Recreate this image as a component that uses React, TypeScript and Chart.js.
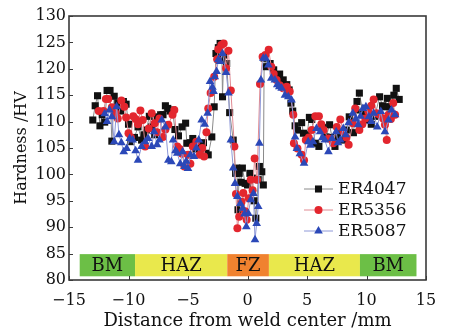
import React, { useEffect, useRef } from "react";
import { Chart, registerables } from "chart.js";

Chart.register(...registerables);

// ---- data ----
const seriesNames = ["ER4047", "ER5356", "ER5087"];

const er4047X = [-13.0, -12.8, -12.6, -12.4, -12.2, -12.0, -11.8, -11.55, -11.4, -11.2, -10.9, -10.65, -10.43, -10.2, -10.0, -9.8, -9.5, -9.2, -8.9, -8.7, -8.5, -8.25, -8.05, -7.8, -7.6, -7.3, -7.1, -6.9, -6.7, -6.5, -6.3, -6.1, -5.8, -5.5, -5.2, -5.1, -4.8, -4.6, -4.35, -4.1, -3.9, -3.7, -3.5, -3.3, -3.0, -2.8, -2.65, -2.45, -2.3, -2.15, -2.1, -2.0, -1.75, -1.5, -1.2, -1.0, -0.9, -0.8, -0.7, -0.55, -0.43, -0.2, 0.0, 0.2, 0.4, 0.55, 0.7, 0.9, 1.0, 1.2, 1.33, 1.4, 1.6, 1.9, 2.2, 2.5, 2.7, 3.0, 3.3, 3.5, 3.65, 3.8, 4.0, 4.2, 4.55, 4.7, 5.0, 5.2, 5.4, 5.7, 6.0, 6.3, 6.6, 6.9, 7.1, 7.35, 7.6, 7.8, 8.05, 8.3, 8.55, 8.9, 9.1, 9.2, 9.4, 9.7, 9.9, 10.15, 10.4, 10.7, 11.1, 11.35, 11.55, 11.75, 11.97, 12.3, 12.5, 12.75];
const er4047Y = [110.3, 113, 114.9, 109.2, 111.3, 109.9, 115.9, 115.9, 106.3, 114.8, 113.5, 112, 113.8, 113.3, 109.5, 106.2, 107, 109.0, 106.5, 107.5, 108.4, 111, 109.0, 107.5, 110.9, 111.3, 111.3, 113, 112.5, 112, 112.2, 108.5, 107.3, 109, 109.7, 105.9, 106, 106.8, 104.8, 105.3, 104, 106, 104, 103.7, 107.1, 112.8, 122.9, 124, 124.8, 122, 114.7, 122.6, 121, 111.7, 106.5, 100.2, 101.2, 93.3, 100.2, 98.5, 101.2, 98.3, 98, 100.2, 99.3, 95, 91.7, 99, 101.5, 100.5, 98, 122, 120.4, 121, 119.8, 118.8, 119, 117.9, 117, 116, 113.5, 112, 109.2, 108.4, 109.8, 107.8, 107.5, 110.8, 110.4, 105.9, 105.3, 108.9, 107.1, 109.4, 107, 105.3, 107.1, 108, 106.5, 108.4, 110.9, 107.9, 112.2, 113.8, 115.4, 111.7, 112.5, 110.3, 109.5, 111, 114.7, 113, 112.8, 114.4, 112.8, 115, 116.3, 114.2];

const er5356X = [-12.5, -12.1, -11.9, -11.7, -11.4, -11.1, -10.9, -10.6, -10.35, -10.2, -10.0, -9.8, -9.6, -9.4, -9.2, -9.0, -8.8, -8.6, -8.3, -8.05, -7.8, -7.6, -7.4, -7.1, -6.9, -6.65, -6.3, -6.15, -5.9, -5.7, -5.5, -5.3, -5.0, -4.8, -4.6, -4.3, -4.0, -3.8, -3.65, -3.45, -3.3, -3.1, -2.8, -2.55, -2.45, -2.2, -2.0, -1.8, -1.6, -1.4, -1.1, -0.97, -0.85, -0.7, -0.5, -0.35, -0.2, -0.07, 0.1, 0.27, 0.43, 0.6, 0.8, 1.05, 1.27, 1.5, 1.78, 2.0, 2.2, 2.45, 2.7, 3.0, 3.3, 3.55, 3.85, 3.9, 4.2, 4.55, 4.75, 4.9, 5.15, 5.4, 5.7, 6.0, 6.2, 6.4, 6.8, 7.2, 7.5, 7.8, 8.05, 8.3, 8.5, 8.85, 9.05, 9.4, 9.65, 9.9, 10.15, 10.4, 10.6, 10.85, 11.1, 11.4, 11.55, 11.7, 11.85, 12.05, 12.25, 12.4];
const er5356Y = [112, 112, 114.3, 114.3, 112.7, 111.6, 110.6, 114, 112.8, 110.8, 107.8, 107, 111, 110.5, 109.5, 112.1, 110.3, 105.3, 108.7, 111.6, 109.7, 108, 110.6, 107.1, 108.5, 109.4, 111.3, 112.2, 105.3, 104.8, 103.9, 101.5, 103.7, 102, 105.3, 106.2, 103.7, 105, 103.4, 108, 112.5, 115.4, 118.5, 121.8, 123.7, 124.5, 124.8, 120.1, 123.4, 115.9, 105.3, 96.3, 89.8, 92, 94.8, 96.5, 93, 91.4, 95.5, 99, 97, 103, 99, 117.1, 122.3, 122.6, 123.6, 120.4, 119, 117.9, 116.9, 116.3, 116.6, 115.7, 111.3, 105.9, 104.9, 103.7, 102.7, 106.5, 107, 108.4, 111, 111, 109.5, 108.4, 106.8, 105.9, 109, 110.4, 108.1, 107, 105.6, 109.7, 112.5, 108.4, 109.5, 110.6, 111.9, 113, 114.2, 111.6, 111.3, 110.6, 109.4, 106.5, 111.3, 110.5, 113.5, 111.3];

const er5087X = [-12.0, -11.8, -11.6, -11.4, -11.2, -11.0, -10.8, -10.6, -10.4, -10.15, -9.9, -9.65, -9.4, -9.2, -8.9, -8.6, -8.35, -8.05, -7.85, -7.6, -7.4, -7.2, -6.9, -6.65, -6.4, -6.25, -6.05, -5.9, -5.65, -5.45, -5.3, -5.15, -5.0, -4.8, -4.5, -4.3, -4.1, -3.85, -3.6, -3.35, -3.15, -2.95, -2.85, -2.75, -2.6, -2.45, -2.3, -2.1, -1.8, -1.6, -1.4, -1.2, -1.05, -0.85, -0.6, -0.4, -0.25, -0.1, 0.07, 0.27, 0.5, 0.63, 0.77, 0.9, 1.0, 1.13, 1.33, 1.53, 1.75, 2.0, 2.3, 2.5, 2.67, 2.87, 3.15, 3.43, 3.7, 4.0, 4.15, 4.4, 4.75, 5.1, 5.3, 5.5, 5.8, 6.1, 6.3, 6.5, 6.8, 7.1, 7.45, 7.6, 7.8, 8.05, 8.25, 8.5, 8.85, 9.1, 9.3, 9.5, 9.7, 9.95, 10.2, 10.4, 10.6, 10.9, 11.2, 11.55, 11.85, 12.1, 12.4];
const er5087Y = [111.5, 110, 112.2, 110.9, 106.2, 112.8, 107.5, 106, 104.3, 104.9, 106.8, 106.5, 104.5, 102.7, 105.3, 106.2, 106.8, 105.3, 108.1, 105.6, 106.5, 110.3, 109, 102.7, 102.4, 106.5, 104.5, 104, 102, 104.3, 101.5, 102.5, 101.1, 103.7, 103.4, 105, 106.5, 110.3, 109.5, 111.6, 117.6, 116.5, 115.7, 118.5, 119.5, 121.7, 121.4, 122.9, 119.3, 115.4, 106.5, 101.2, 98.3, 95.8, 94.5, 93.6, 92.5, 90.1, 92.6, 95.2, 96.4, 87.6, 90.7, 93.9, 105.9, 117.9, 122, 122, 120.7, 118.2, 117.9, 117, 116.6, 116.3, 115, 114.7, 114.1, 107.1, 104.9, 103.9, 102.1, 106.2, 105.5, 106.2, 108.7, 108.1, 107, 106.5, 104.3, 106.8, 108.1, 106, 106.5, 108.7, 107.5, 109.8, 111.6, 110.5, 109.4, 111, 112.5, 112.8, 110.9, 110, 111.6, 109, 111.9, 108.1, 110.3, 112.2, 111.3];

const xTicks = [-15, -10, -5, 0, 5, 10, 15];
const yTicks = [80, 85, 90, 95, 100, 105, 110, 115, 120, 125, 130];

const bandLabels = ["BM", "HAZ", "FZ", "HAZ", "BM"];
const bandStart = [-14.1, -9.45, -1.7, 1.8, 9.45];
const bandEnd = [-9.45, -1.7, 1.8, 9.45, 14.2];
const bandLow = 80.7;
const bandHigh = 84.9;

// ---- styles ----
const bandColors = ["#6cbf46", "#e9e84c", "#f0822f", "#e9e84c", "#6cbf46"];
const pointColors = ["#111111", "#e3262e", "#2b48b8"];
const lineColors = ["#8a8a8a", "#e08a92", "#8e98d8"];
const pointStyles = ["rect", "circle", "triangle"];
const pointRadii = [5, 4, 5];
const SERIF = "'DejaVu Serif', serif";

function toPts(xs: number[], ys: number[]) {
  return xs.map((x, i) => ({ x, y: ys[i] }));
}

const minus = (v: number) => String(v).replace("-", "\u2212");

const bandsPlugin = {
  id: "bands",
  beforeDatasetsDraw(chart: any) {
    const { ctx, scales } = chart;
    const xs = scales.x;
    const ys = scales.y;
    ctx.save();
    const yTop = ys.getPixelForValue(bandHigh);
    const yBot = ys.getPixelForValue(bandLow);
    bandLabels.forEach((lab, i) => {
      const x0 = xs.getPixelForValue(bandStart[i]);
      const x1 = xs.getPixelForValue(bandEnd[i]);
      ctx.fillStyle = bandColors[i];
      ctx.fillRect(x0, yTop, x1 - x0, yBot - yTop);
      ctx.fillStyle = "#111";
      ctx.font = `18px ${SERIF}`;
      ctx.textAlign = "center";
      ctx.textBaseline = "middle";
      ctx.fillText(lab, (x0 + x1) / 2, (yTop + yBot) / 2 + 1);
    });
    ctx.restore();
  },
};

function drawMarker(ctx: CanvasRenderingContext2D, style: string, x: number, y: number, r: number) {
  ctx.beginPath();
  if (style === "rect") {
    const s = r * Math.SQRT1_2;
    ctx.rect(x - s, y - s, 2 * s, 2 * s);
  } else if (style === "circle") {
    ctx.arc(x, y, r, 0, Math.PI * 2);
  } else {
    const dx = Math.cos(Math.PI / 6) * r;
    ctx.moveTo(x, y - r);
    ctx.lineTo(x - dx, y + r / 2);
    ctx.lineTo(x + dx, y + r / 2);
    ctx.closePath();
  }
  ctx.fill();
}

const framePlugin = {
  id: "frame",
  afterDraw(chart: any) {
    const { ctx, chartArea, scales } = chart;
    ctx.save();
    ctx.strokeStyle = "#3a3a3a";
    ctx.lineWidth = 1.6;
    ctx.strokeRect(chartArea.left, chartArea.top, chartArea.right - chartArea.left, chartArea.bottom - chartArea.top);
    ctx.lineWidth = 1;
    ctx.beginPath();
    xTicks.forEach((v) => {
      const px = Math.round(scales.x.getPixelForValue(v)) + 0.5;
      ctx.moveTo(px, chartArea.bottom);
      ctx.lineTo(px, chartArea.bottom - 4);
    });
    yTicks.forEach((v) => {
      const py = Math.round(scales.y.getPixelForValue(v)) + 0.5;
      ctx.moveTo(chartArea.left, py);
      ctx.lineTo(chartArea.left + 4, py);
    });
    ctx.stroke();

    // legend
    const lx0 = chartArea.left + 235;
    const ly0 = chartArea.top + 173;
    seriesNames.forEach((name, i) => {
      const y = ly0 + i * 21;
      ctx.strokeStyle = lineColors[i];
      ctx.lineWidth = 1;
      ctx.beginPath();
      ctx.moveTo(lx0, y);
      ctx.lineTo(lx0 + 29, y);
      ctx.stroke();
      ctx.fillStyle = pointColors[i];
      drawMarker(ctx, pointStyles[i], lx0 + 14.5, y, pointRadii[i]);
      ctx.fillStyle = "#111";
      ctx.font = `17px ${SERIF}`;
      ctx.textAlign = "left";
      ctx.textBaseline = "middle";
      ctx.fillText(name, lx0 + 34, y + 1);
    });
    ctx.restore();
  },
};

export default function App() {
  const ref = useRef<HTMLCanvasElement | null>(null);
  useEffect(() => {
    if (!ref.current) return;
    const xsAll = [er4047X, er5356X, er5087X];
    const ysAll = [er4047Y, er5356Y, er5087Y];
    const chart = new Chart(ref.current, {
      type: "line",
      data: {
        datasets: seriesNames.map((name, i) => ({
          label: name,
          data: toPts(xsAll[i], ysAll[i]),
          borderColor: lineColors[i],
          borderWidth: 1,
          backgroundColor: pointColors[i],
          pointBackgroundColor: pointColors[i],
          pointBorderColor: pointColors[i],
          pointBorderWidth: 0,
          pointStyle: pointStyles[i] as any,
          pointRadius: pointRadii[i],
          tension: 0,
          fill: false,
          order: 3 - i,
        })),
      },
      options: {
        responsive: false,
        animation: false,
        events: [],
        layout: { padding: { left: 0, top: 16, right: 26, bottom: 0 } },
        plugins: { legend: { display: false }, tooltip: { enabled: false } },
        scales: {
          x: {
            type: "linear",
            min: -15,
            max: 15,
            afterFit: (s: any) => { s.height = 52; },
            afterBuildTicks: (s: any) => { s.ticks = xTicks.map((v) => ({ value: v })); },
            grid: { display: false, drawTicks: false },
            border: { display: false },
            ticks: { color: "#111", font: { family: SERIF, size: 16 }, padding: 11, callback: (v: any) => minus(Number(v)), maxRotation: 0 },
            title: { display: true, text: "Distance from weld center /mm", color: "#111", font: { family: SERIF, size: 18 }, padding: { top: 0, bottom: 0 } },
          },
          y: {
            type: "linear",
            min: 80,
            max: 130,
            afterFit: (s: any) => { s.width = 69; },
            afterBuildTicks: (s: any) => { s.ticks = yTicks.map((v) => ({ value: v })); },
            grid: { display: false, drawTicks: false },
            border: { display: false },
            ticks: { color: "#111", font: { family: SERIF, size: 16 }, padding: 3, callback: (v: any) => String(v) },
            title: { display: true, text: "Hardness /HV", color: "#111", font: { family: SERIF, size: 16 }, padding: { top: 12, bottom: 0 } },
          },
        },
      },
      plugins: [bandsPlugin, framePlugin],
    } as any);
    return () => chart.destroy();
  }, []);
  return (
    <div style={{ position: "absolute", left: 0, top: 0, width: 452, height: 332, background: "#fff" }}>
      <canvas ref={ref} width={452} height={332} />
    </div>
  );
}
